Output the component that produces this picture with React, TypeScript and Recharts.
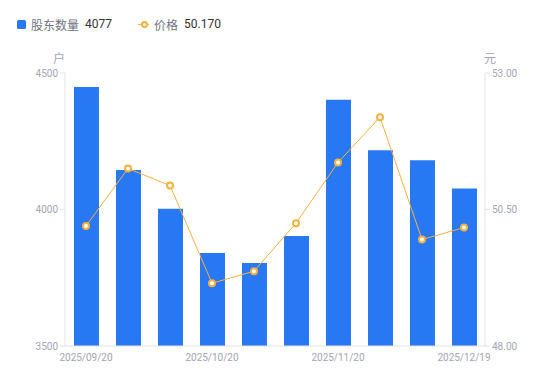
import React from 'react';
import { ComposedChart, Bar, Line, XAxis, YAxis } from 'recharts';

const dates = ['2025/09/20', '2025/09/30', '2025/10/10', '2025/10/20', '2025/10/31', '2025/11/10', '2025/11/20', '2025/11/28', '2025/12/10', '2025/12/19'];
const holders = [4449, 4145, 4003, 3841, 3804, 3903, 4402, 4217, 4180, 4077];
const prices = [50.2, 51.25, 50.94, 49.15, 49.37, 50.25, 51.36, 52.19, 49.95, 50.17];
const leftTicks = [3500, 4000, 4500];
const rightTicks = [48, 50.5, 53];

const data = dates.map((d, i) => ({ date: d, holders: holders[i], price: prices[i] }));

const BLUE = '#2878F4';
const ORANGE = '#F7B13F';
const AXIS = '#E3E3E8';
const TICK = '#A3A5B3';

export default function App() {
  return (
    <div style={{ position: 'absolute', left: 0, top: 0, width: 550, height: 381, fontFamily: 'Roboto, "Noto Sans CJK SC", sans-serif', background: '#fff' }}>
      <div style={{ position: 'absolute', left: 17, top: 16, height: 16, display: 'flex', alignItems: 'center', fontSize: 12, whiteSpace: 'nowrap' }}>
        <span style={{ display: 'inline-block', width: 9, height: 9, background: BLUE, borderRadius: 1.5, marginRight: 5 }} />
        <span style={{ color: '#70737F' }}>股东数量</span>
        <span style={{ color: '#333', marginLeft: 6 }}>{holders[holders.length - 1]}</span>
        <span style={{ display: 'inline-block', position: 'relative', width: 11, height: 9, marginLeft: 26, marginRight: 5 }}>
          <span style={{ position: 'absolute', left: 0, top: 4, width: 11, height: 1, background: ORANGE }} />
          <span style={{ position: 'absolute', left: 2.5, top: 1.5, width: 3, height: 3, border: `2px solid ${ORANGE}`, borderRadius: '50%', background: '#fff' }} />
        </span>
        <span style={{ color: '#70737F' }}>价格</span>
        <span style={{ color: '#333', marginLeft: 6 }}>{prices[prices.length - 1].toFixed(3)}</span>
      </div>
      <div style={{ position: 'absolute', left: 53, top: 49, fontSize: 12, color: TICK }}>户</div>
      <div style={{ position: 'absolute', left: 484, top: 49, fontSize: 12, color: TICK }}>元</div>
      <ComposedChart width={550} height={381} data={data} margin={{ top: 73, right: 0, bottom: 15, left: 0 }}>
        <XAxis
          dataKey="date"
          interval={2}
          tickLine={false}
          axisLine={{ stroke: AXIS }}
          tick={{ fill: TICK, fontSize: 10 }}
          height={20}
        />
        <YAxis
          yAxisId="left"
          domain={[3500, 4500]}
          ticks={leftTicks}
          width={65}
          tickSize={5}
          axisLine={{ stroke: AXIS }}
          tickLine={{ stroke: AXIS }}
          tick={{ fill: TICK, fontSize: 10 }}
        />
        <YAxis
          yAxisId="right"
          orientation="right"
          domain={[48, 53]}
          ticks={rightTicks}
          width={65}
          tickSize={5}
          tickFormatter={(v: number) => v.toFixed(2)}
          axisLine={{ stroke: AXIS }}
          tickLine={{ stroke: AXIS }}
          tick={{ fill: TICK, fontSize: 10 }}
        />
        <Bar yAxisId="left" dataKey="holders" fill={BLUE} barSize={25} isAnimationActive={false} />
        <Line
          yAxisId="right"
          dataKey="price"
          type="linear"
          stroke={ORANGE}
          strokeWidth={1}
          dot={{ r: 3, stroke: ORANGE, strokeWidth: 2, fill: '#fff' }}
          isAnimationActive={false}
        />
      </ComposedChart>
    </div>
  );
}
